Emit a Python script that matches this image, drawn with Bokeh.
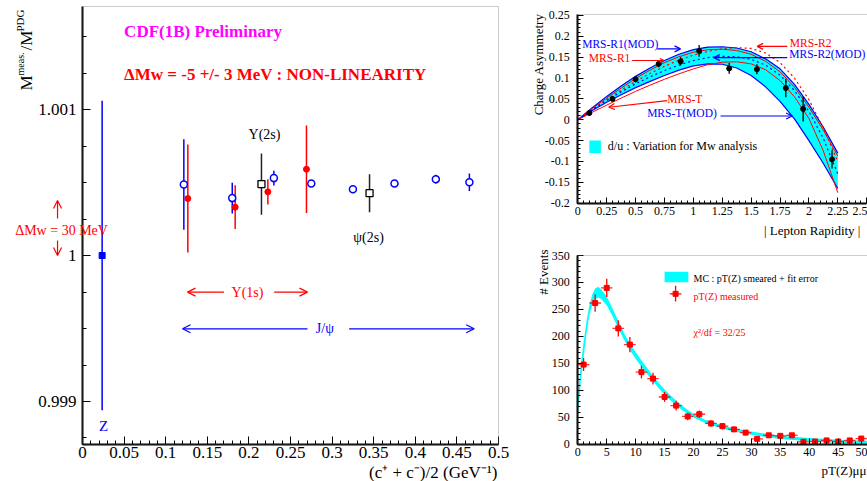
import numpy as np
from bokeh.plotting import figure
from bokeh.layouts import row, column
from bokeh.models import (Label, Arrow, OpenHead, SingleIntervalTicker, FixedTicker,
                          CustomJSTickFormatter, BoxAnnotation, LinearAxis)
from bokeh.embed import file_html
from bokeh.resources import INLINE

SERIF = "Liberation Serif"
BLUE = "#0000ff"
RED = "#ff0000"
CYAN = "#00ffff"

# ---------------- main panel data ----------------
z_x = [0.0236]
z_y = [1.0]
z_err = [0.00106]
jpsi_x = [0.1218, 0.180, 0.230, 0.275, 0.325, 0.375, 0.4247, 0.465]
jpsi_y = [1.000486, 1.000393, 1.000530, 1.000493, 1.000454, 1.000493, 1.000523, 1.000502]
jpsi_err = [0.00031, 0.000105, 0.00005, 0.00002, 0.00001, 0.00001, 0.00003, 0.00006]
ups1_x = [0.1266, 0.1835, 0.2228, 0.2692]
ups1_y = [1.000390, 1.000331, 1.000436, 1.000591]
ups1_err = [0.00037, 0.00015, 0.000087, 0.0003]
ups2_x = [0.2151, 0.345]
ups2_y = [1.000489, 1.000427]
ups2_err = [0.00021, 0.00013]
main_y_ticks = [0.999, 1.0, 1.001]

# ---------------- charge asymmetry data ----------------
rap_x = [0.1, 0.3, 0.5, 0.7, 0.89, 1.05, 1.31, 1.55, 1.8, 1.95, 2.2]
asym = [0.016, 0.050, 0.097, 0.134, 0.140, 0.165, 0.123, 0.121, 0.076, 0.026, -0.095]
asym_err = [0.005, 0.005, 0.007, 0.008, 0.010, 0.014, 0.013, 0.012, 0.022, 0.030, 0.022]
rap_grid = [0, 0.125, 0.25, 0.375, 0.5, 0.625, 0.75, 0.875, 1.0, 1.125, 1.25,
            1.375, 1.5, 1.625, 1.75, 1.875, 2.0, 2.125, 2.25]
band_hi = [0, 0.029, 0.056, 0.081, 0.104, 0.124, 0.142, 0.157, 0.168, 0.174, 0.175,
           0.172, 0.163, 0.146, 0.122, 0.085, 0.037, -0.018, -0.080]
band_lo = [0, 0.022, 0.042, 0.060, 0.077, 0.092, 0.106, 0.119, 0.129, 0.134, 0.133,
           0.124, 0.106, 0.079, 0.044, 0.002, -0.050, -0.105, -0.165]
mrs_r1 = [0, 0.027, 0.052, 0.076, 0.099, 0.119, 0.137, 0.151, 0.162, 0.168, 0.169,
          0.166, 0.157, 0.140, 0.115, 0.078, 0.030, -0.025, -0.087]
mrs_t = [0, 0.018, 0.035, 0.052, 0.068, 0.083, 0.097, 0.110, 0.122, 0.132, 0.138,
         0.139, 0.134, 0.120, 0.094, 0.055, 0.003, -0.075, -0.175]
mrs_r2 = [0, 0.025, 0.049, 0.071, 0.092, 0.111, 0.128, 0.143, 0.155, 0.164, 0.170,
          0.173, 0.171, 0.160, 0.137, 0.100, 0.048, -0.020, -0.100]
mrs_r2mod = [0, 0.024, 0.046, 0.067, 0.086, 0.103, 0.118, 0.131, 0.142, 0.149, 0.152,
             0.151, 0.145, 0.131, 0.107, 0.070, 0.020, -0.045, -0.130]

# ---------------- pT(Z) data ----------------
pt_x = [1, 3, 5, 7, 9, 11, 13, 15, 17, 19, 21, 23, 25, 27, 29, 31, 33, 35, 37, 39, 41, 43, 45, 47, 49]
pt_y = [148, 262, 290, 215, 185, 134, 122, 88, 72, 52, 56, 39, 34, 28, 22, 10.5, 17, 16, 17,
        5, 5.5, 7.5, 5.5, 7.5, 11]
pt_err = [12, 16, 17, 15, 14, 12, 11, 9, 9, 7, 7, 6, 6, 5, 5, 3, 4, 4, 4, 2, 2, 3, 2, 3, 3]
mc_x = [0, 0.5, 1, 1.5, 2, 2.5, 3, 3.5, 4, 5, 6, 7, 8, 9, 10, 11, 12, 13, 14, 15, 16, 17,
        18, 19, 20, 22, 25, 27, 30, 35, 40, 45, 50]
mc_lo = [50, 115, 160, 205, 240, 258, 268, 272, 270, 258, 238, 215, 194, 175, 159, 144, 130,
         117, 104, 92, 82, 73, 64, 57, 50, 40, 29, 24, 18, 10, 6, 3, 2]
mc_hi = [90, 145, 190, 228, 258, 278, 289, 292, 288, 274, 252, 229, 206, 187, 171, 156, 141,
         127, 114, 102, 91, 81, 72, 64, 57, 46, 35, 30, 24, 16, 12, 9, 7]

FMT = CustomJSTickFormatter(code="return String(Math.round(tick*1e6)/1e6);")


def make_fig(w, h, xr, yr):
    p = figure(width=w, height=h, x_range=xr, y_range=yr, output_backend="svg",
               toolbar_location=None, x_axis_location=None, y_axis_location=None,
               min_border_left=0, min_border_right=0, min_border_top=0, min_border_bottom=0)
    p.grid.visible = False
    p.outline_line_color = None
    p.background_fill_color = "white"
    p.border_fill_color = "white"
    return p


def axes(p, xloc, yloc, xb, yb, xt, yt, size, major_in, minor_in, xstand, ystand, width=2):
    xa = LinearAxis(fixed_location=xloc, bounds=xb, ticker=xt, formatter=FMT)
    ya = LinearAxis(fixed_location=yloc, bounds=yb, ticker=yt, formatter=FMT)
    for ax in (xa, ya):
        ax.axis_line_width = width
        ax.axis_line_color = "black"
        ax.major_tick_in = major_in
        ax.major_tick_out = 0
        ax.minor_tick_in = minor_in
        ax.minor_tick_out = 0
        ax.major_tick_line_color = "black"
        ax.minor_tick_line_color = "black"
        ax.major_label_text_font = SERIF
        ax.major_label_text_font_size = size
        ax.major_label_text_color = "black"
    xa.major_label_standoff = xstand
    ya.major_label_standoff = ystand
    p.add_layout(xa, "below")
    p.add_layout(ya, "left")


def frame_box(p, left, right, bottom, top):
    p.add_layout(BoxAnnotation(left=left, right=right, bottom=bottom, top=top,
                               fill_alpha=0, line_color="#555555", line_width=1))


def lab(p, x, y, text, size, color="black", align="left", base="middle", bold=False, angle=0):
    p.add_layout(Label(x=x, y=y, text=text, text_font=SERIF, text_font_size=size,
                       text_color=color, text_align=align, text_baseline=base,
                       text_font_style="bold" if bold else "normal", angle=angle))


def arrow(p, x0, y0, x1, y1, color, size=8, width=1.2):
    p.add_layout(Arrow(end=OpenHead(size=size, line_color=color, line_width=width),
                       x_start=x0, y_start=y0, x_end=x1, y_end=y1,
                       line_color=color, line_width=width))


def errs(p, x, y, e, color, w):
    p.segment(x0=x, x1=x, y0=[a - b for a, b in zip(y, e)], y1=[a + b for a, b in zip(y, e)],
              line_color=color, line_width=w)


ang = np.pi / 2

# ================= main panel =================
Y0, Y1 = 0.9987055, 1.0017055
p1 = make_fig(520, 481, (-0.098558, 0.526442), (0.99845205, 1.0017466))
frame_box(p1, 0, 0.5, Y0, Y1)
axes(p1, Y0, 0, (0, 0.5), (Y0, Y1),
     SingleIntervalTicker(interval=0.05, num_minor_ticks=5),
     FixedTicker(ticks=main_y_ticks, minor_ticks=list(np.arange(0.99875, 1.0017, 0.00025))),
     "17px", 8, 4, 3, 6)

errs(p1, z_x, z_y, z_err, BLUE, 1.5)
errs(p1, jpsi_x, jpsi_y, jpsi_err, BLUE, 1.5)
errs(p1, ups1_x, ups1_y, ups1_err, RED, 1.5)
errs(p1, ups2_x, ups2_y, ups2_err, "#222222", 1.5)
p1.scatter(z_x, z_y, marker="square", size=6, color=BLUE)
p1.scatter(jpsi_x, jpsi_y, marker="circle", size=7, fill_color="white", line_color=BLUE,
           line_width=1.5)
p1.scatter(ups1_x, ups1_y, marker="circle", size=6, color=RED)
p1.scatter(ups2_x, ups2_y, marker="square", size=7, fill_color="white", line_color="black",
           line_width=1.3)

lab(p1, 0.050, 1.001534, "CDF(1B) Preliminary", "17px", "#ff00ff", bold=True)
lab(p1, 0.050, 1.00124, "\u0394Mw = -5 +/- 3 MeV : NON-LINEARITY", "17px", RED, bold=True)
lab(p1, 0.2188, 1.000829, "\u03a5(2s)", "14px", "black", align="center")
lab(p1, 0.3438, 1.000123, "\u03c8(2s)", "14px", "black", align="center")
lab(p1, 0.0252, 0.998829, "Z", "15px", BLUE, align="center")
lab(p1, -0.0252, 1.000171, "\u0394Mw = 30 MeV", "14px", RED, align="center")
arrow(p1, -0.030, 1.000253, -0.030, 1.000377, RED)
arrow(p1, -0.030, 1.000103, -0.030, 1.0, RED)
lab(p1, 0.1983, 0.999749, "\u03a5(1s)", "14px", RED, align="center")
arrow(p1, 0.170, 0.999749, 0.1262, 0.999749, RED)
arrow(p1, 0.2304, 0.999749, 0.2704, 0.999749, RED)
lab(p1, 0.2913, 0.999498, "J/\u03c8", "14px", BLUE, align="center")
arrow(p1, 0.2704, 0.999498, 0.1202, 0.999498, BLUE)
arrow(p1, 0.3205, 0.999498, 0.4708, 0.999498, BLUE)
# y axis title
lab(p1, -0.0668, 1.00113, "M", "17px", base="alphabetic", angle=ang)
lab(p1, -0.0748, 1.001233, "meas.", "10px", base="alphabetic", angle=ang)
lab(p1, -0.0668, 1.001404, "/M", "17px", base="alphabetic", angle=ang)
lab(p1, -0.0748, 1.001534, "PDG", "11px", base="alphabetic", angle=ang)
# x axis title
lab(p1, 0.4988, 0.998514, "(c\u207a + c\u207b)/2 (GeV\u207b\u00b9)", "17px", align="right",
    base="alphabetic")

# ================= charge asymmetry =================
A0, A1 = -0.2, 0.2524
p2 = make_fig(347, 248, (-0.49585, 2.5069), (-0.30868, 0.2859))
frame_box(p2, 0, None, A0, A1)
axes(p2, A0, 0, (0, 2.5), (A0, A1),
     SingleIntervalTicker(interval=0.25, num_minor_ticks=5),
     SingleIntervalTicker(interval=0.05, num_minor_ticks=5),
     "12px", 6, 3, 4, 8)
p2.varea(x=rap_grid, y1=band_lo, y2=band_hi, fill_color=CYAN)
p2.line(rap_grid, band_hi, line_color=BLUE, line_width=1.2)
p2.line(rap_grid, band_lo, line_color=BLUE, line_width=1.2)
p2.line(rap_grid, mrs_r1, line_color=RED, line_width=1.0)
p2.line(rap_grid, mrs_t, line_color=RED, line_width=1.0)
p2.line(rap_grid, mrs_r2, line_color=RED, line_width=1.2, line_dash="2 3")
p2.line(rap_grid, mrs_r2mod, line_color=BLUE, line_width=1.2, line_dash="2 3")
errs(p2, rap_x, asym, asym_err, "black", 1.3)
p2.scatter(rap_x, asym, marker="circle", size=5, color="black")

MF = "11.5px"
lab(p2, 0.038, 0.182, "MRS-R1(MOD)", MF, BLUE)
arrow(p2, 0.687, 0.170, 0.889, 0.170, BLUE, size=6)
lab(p2, 0.095, 0.149, "MRS-R1", MF, RED)
arrow(p2, 0.47, 0.142, 0.745, 0.142, RED, size=4)
lab(p2, 0.774, 0.0487, "MRS-T", MF, RED)
arrow(p2, 0.774, 0.046, 0.268, 0.030, RED, size=6)
lab(p2, 0.600, 0.0168, "MRS-T(MOD)", MF, BLUE)
arrow(p2, 1.235, 0.009, 1.855, 0.009, BLUE, size=6)
lab(p2, 1.835, 0.184, "MRS-R2", MF, RED)
arrow(p2, 1.812, 0.176, 1.552, 0.176, RED, size=6)
lab(p2, 1.830, 0.158, "MRS-R2(MOD)", MF, BLUE)
arrow(p2, 1.812, 0.149, 1.177, 0.149, BLUE, size=6)
p2.add_layout(BoxAnnotation(left=0.10, right=0.20, bottom=-0.080, top=-0.050,
                            fill_color=CYAN, fill_alpha=1, line_alpha=0))
lab(p2, 0.26, -0.063, "d/u : Variation for Mw analysis", "12px")
lab(p2, -0.340, 0.255, "Charge Asymmetry", "13px", align="right", base="alphabetic", angle=ang)
lab(p2, 2.446, -0.2655, "| Lepton Rapidity |", "13px", align="right", base="alphabetic")

# ================= pT(Z) =================
p3 = make_fig(347, 233, (-9.903, 50.07), (-68.52, 362.96))
frame_box(p3, 0, None, 0, 350)
axes(p3, 0, 0, (0, 50), (0, 350),
     SingleIntervalTicker(interval=5, num_minor_ticks=5),
     SingleIntervalTicker(interval=50, num_minor_ticks=5),
     "12px", 6, 3, 4, 8)
p3.varea(x=mc_x, y1=mc_lo, y2=mc_hi, fill_color=CYAN)
p3.segment(x0=[x - 1 for x in pt_x], x1=[x + 1 for x in pt_x], y0=pt_y, y1=pt_y,
           line_color=RED, line_width=1.3, line_alpha=0.8)
errs(p3, pt_x, pt_y, pt_err, RED, 1.3)
p3.scatter(pt_x, pt_y, marker="square", size=5, color=RED)

p3.add_layout(BoxAnnotation(left=15.0, right=19.1, bottom=300.6, top=320,
                            fill_color=CYAN, fill_alpha=1, line_alpha=0))
lab(p3, 20.0, 306.8, "MC : pT(Z) smeared + fit error", "10px")
p3.segment(x0=[15.9], x1=[17.9], y0=[279], y1=[279], line_color=RED, line_width=1.3)
p3.segment(x0=[16.9], x1=[16.9], y0=[265], y1=[294], line_color=RED, line_width=1.3)
p3.scatter([16.9], [279], marker="square", size=5, color=RED)
lab(p3, 20.0, 274.6, "pT(Z) measured", "10px", RED)
lab(p3, 20.0, 208, "\u03c7\u00b2/df = 32/25", "10px", RED)
lab(p3, -5.9, 361, "# Events", "13px", align="right", base="alphabetic", angle=ang)
lab(p3, 49.9, -48, "pT(Z)\u03bc\u03bc", "13px", align="right", base="alphabetic")

layout = row(p1, column(p2, p3))
open("out.html", "w").write(file_html(layout, INLINE))
